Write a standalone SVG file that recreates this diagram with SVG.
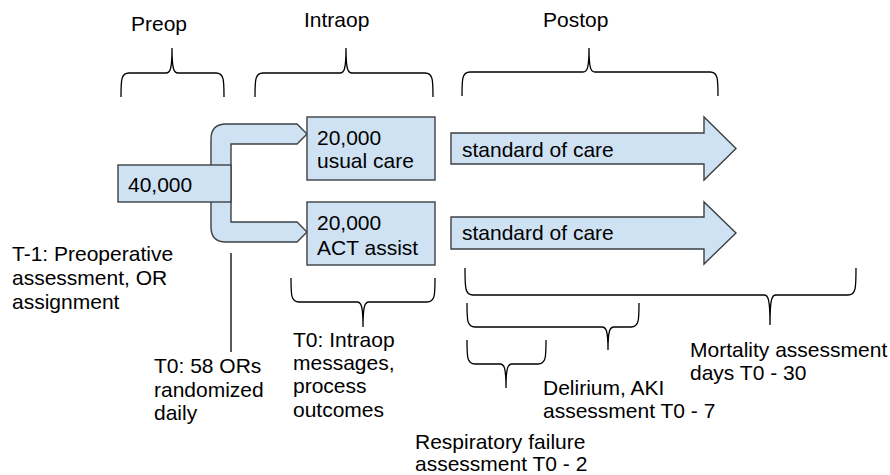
<svg xmlns="http://www.w3.org/2000/svg" width="890" height="475" viewBox="0 0 890 475">
<style>
.t{font-family:"Liberation Sans",Arial,sans-serif;font-size:21px;fill:#000}
.b{fill:none;stroke:#000;stroke-width:1.3}
.s{fill:#cfe2f3;stroke:#3c4043;stroke-width:1.4;stroke-linejoin:miter}
.l{stroke:#000;stroke-width:1.3}
</style>
<rect width="890" height="475" fill="#fff"/>
<g id="labels">
<text class="t" x="131" y="31">Preop</text>
<text class="t" x="304" y="27">Intraop</text>
<text class="t" x="543" y="27">Postop</text>
</g>
<g id="connectors">
<path class="b" d="M121,97 C121,80 121,73 129,73 L166,73 C170,73 172,70 172,48 C172,70 174,73 178,73 L216,73 C224,73 224,80 224,97"/>
<path class="b" d="M255,97 C255,80 255,73 263,73 L340,73 C344,73 346,70 346,48 C346,70 348,73 352,73 L425,73 C433,73 433,80 433,97"/>
<path class="b" d="M462,96 C462,79 462,72 470,72 L583,72 C587,72 589,69 589,48 C589,69 591,72 595,72 L710,72 C718,72 718,79 718,96"/>
<path class="b" d="M291,278 C291,295 291,302 299,302 L357,302 C361,302 363,305 363,327 C363,305 365,302 369,302 L427,302 C435,302 435,295 435,278"/>
<path class="b" d="M465,268 C465,288 465,295 473,295 L764,295 C768,295 770,298 770,325 C770,298 772,295 776,295 L848,295 C856,295 856,288 856,268"/>
<path class="b" d="M467,303 C467,320 467,327 475,327 L602,327 C606,327 608,330 608,350 C608,330 610,327 614,327 L631,327 C639,327 639,320 639,303"/>
<path class="b" d="M467,340 C467,357 467,364 475,364 L500,364 C504,364 506,367 506,388 C506,367 508,364 512,364 L538,364 C546,364 546,357 546,340"/>
<line class="l" x1="231" y1="253" x2="231" y2="352"/>
<path class="s" d="M231,165 L231,144 L297,144 L307,134 L297,124 L226,124 Q211,124 211,139 L211,227 Q211,242 226,242 L297,242 L307,232 L297,222 L231,222 L231,202 Z"/>
</g>
<g id="n40000">
<rect class="s" x="118" y="165" width="113" height="37"/>
<text class="t" x="128" y="192">40,000</text>
</g>
<g id="usual">
<rect class="s" x="307" y="117" width="128" height="63"/>
<text class="t" x="317" y="145">20,000</text>
<text class="t" x="317" y="168">usual care</text>
</g>
<g id="act">
<rect class="s" x="307" y="202" width="128" height="63"/>
<text class="t" x="317" y="230">20,000</text>
<text class="t" x="317" y="255">ACT assist</text>
</g>
<g id="soc1">
<polygon class="s" points="451,133 704,133 704,117 736,148.5 704,180 704,164 451,164"/>
<text class="t" x="462" y="157">standard of care</text>
</g>
<g id="soc2">
<polygon class="s" points="451,217 704,217 704,202 736,233 704,264 704,249 451,249"/>
<text class="t" x="462" y="240">standard of care</text>
</g>
<g id="notes">
<text class="t" x="12" y="261">T-1: Preoperative</text>
<text class="t" x="12" y="285">assessment, OR</text>
<text class="t" x="12" y="309">assignment</text>
<text class="t" x="154" y="373">T0: 58 ORs</text>
<text class="t" x="154" y="397">randomized</text>
<text class="t" x="154" y="420">daily</text>
<text class="t" x="293" y="347">T0: Intraop</text>
<text class="t" x="293" y="370">messages,</text>
<text class="t" x="293" y="393">process</text>
<text class="t" x="293" y="417">outcomes</text>
<text class="t" x="690" y="357">Mortality assessment</text>
<text class="t" x="690" y="380">days T0 - 30</text>
<text class="t" x="543" y="395">Delirium, AKI</text>
<text class="t" x="543" y="418">assessment T0 - 7</text>
<text class="t" x="415" y="449">Respiratory failure</text>
<text class="t" x="415" y="471">assessment T0 - 2</text>
</g>
</svg>
